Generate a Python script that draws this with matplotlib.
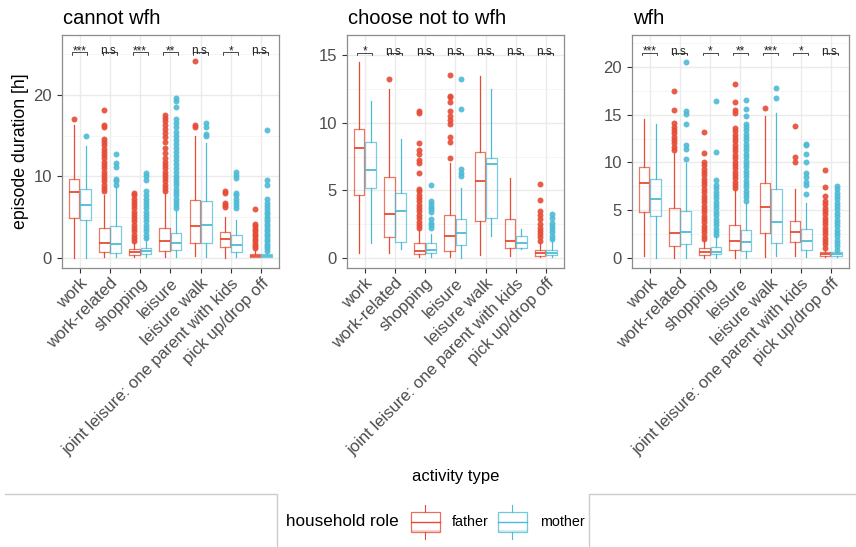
import matplotlib.pyplot as plt
from matplotlib.patches import Rectangle
from matplotlib.lines import Line2D

plt.rcParams['font.family'] = ['Liberation Sans', 'DejaVu Sans']

activities = ["work", "work-related", "shopping", "leisure", "leisure walk",
              "joint leisure: one parent with kids", "pick up/drop off"]
groups = ["cannot wfh", "choose not to wfh", "wfh"]
roles = ["father", "mother"]
role_colors = {"father": "#E64B35", "mother": "#4DBBD5"}

# (whisker low, q1, median, q3, whisker high) for each activity
cannot_father = [(0.0, 4.98, 8.08, 9.67, 16.3), (0.1, 0.73, 1.84, 3.76, 7.76),
                 (0.1, 0.4, 0.73, 1.1, 2.0), (0.1, 0.94, 2.1, 3.76, 7.96),
                 (0.3, 1.84, 4.0, 7.14, 15.0), (0.0, 1.35, 2.33, 3.18, 5.1),
                 (0.1, 0.1, 0.3, 0.53, 1.1)]
cannot_mother = [(0.0, 4.69, 6.53, 8.49, 13.7), (0.1, 0.6, 1.7, 4.0, 8.8),
                 (0.1, 0.49, 0.94, 1.22, 2.45), (0.1, 1.0, 1.84, 3.06, 5.9),
                 (0.2, 1.84, 4.08, 7.0, 14.1), (0.2, 0.82, 1.63, 2.86, 4.7),
                 (0.1, 0.1, 0.3, 0.57, 0.8)]
choose_father = [(0.37, 4.67, 8.1, 9.54, 14.46), (0.37, 1.6, 3.27, 6.02, 12.47),
                 (0.12, 0.3, 0.57, 1.1, 2.16), (0.12, 0.57, 1.65, 3.2, 7.0),
                 (0.25, 2.75, 5.73, 7.82, 13.47), (0.17, 0.74, 1.28, 2.88, 5.9),
                 (0.12, 0.2, 0.42, 0.6, 1.23)]
choose_mother = [(1.1, 5.2, 6.5, 8.6, 11.6), (0.69, 1.23, 3.5, 4.84, 8.8),
                 (0.12, 0.37, 0.6, 1.1, 1.77), (0.05, 0.98, 1.84, 2.88, 5.2),
                 (1.65, 3.0, 6.93, 7.43, 12.47), (0.69, 0.74, 1.1, 1.67, 2.16),
                 (0.12, 0.25, 0.42, 0.6, 1.35)]
wfh_father = [(0.24, 4.8, 7.83, 9.5, 14.5), (0.07, 1.29, 2.68, 5.29, 11.0),
              (0.07, 0.35, 0.63, 1.04, 1.9), (0.07, 0.87, 1.8, 3.48, 7.2),
              (0.17, 2.6, 5.4, 7.9, 14.8), (0.24, 1.67, 2.75, 3.93, 7.23),
              (0.1, 0.24, 0.42, 0.63, 1.0)]
wfh_mother = [(0.07, 4.42, 6.16, 8.24, 14.0), (0.07, 1.46, 2.78, 4.97, 9.9),
              (0.07, 0.42, 0.7, 1.15, 2.33), (0.07, 0.73, 1.67, 2.96, 5.9),
              (0.24, 1.57, 3.83, 7.2, 15.2), (0.17, 0.87, 1.8, 3.03, 5.74),
              (0.1, 0.24, 0.45, 0.63, 0.87)]

# outlying episodes per activity
cannot_father_out = [
    [17.0],
    [8.2, 8.6, 9.0, 9.4, 9.8, 10.2, 10.6, 11.0, 11.4, 11.8, 12.2, 12.6, 13.0, 13.4, 13.8, 14.2, 14.6, 16.1, 16.3, 18.1],
    [2.1, 2.5, 2.9, 3.3, 3.7, 4.1, 4.5, 4.9, 5.3, 5.7, 6.1, 6.5, 6.9, 7.3, 7.7, 8.0],
    [8.2, 8.6, 9.0, 9.4, 9.8, 10.2, 10.6, 11.0, 11.4, 11.8, 12.3, 12.9, 13.5, 14.2, 14.8, 15.3, 15.8, 16.3, 16.8, 17.2, 17.5],
    [16.1, 16.3, 24.1],
    [6.3, 6.5, 6.7, 8.0, 8.2],
    [1.2, 1.5, 1.8, 2.1, 2.4, 2.7, 3.0, 3.3, 3.6, 3.9, 4.2, 6.0],
]
cannot_mother_out = [
    [14.9],
    [9.0, 9.4, 9.7, 11.2, 11.6, 12.8],
    [2.5, 2.9, 3.3, 3.7, 4.1, 4.5, 4.9, 5.3, 5.7, 6.1, 6.5, 6.9, 7.3, 7.7, 8.2, 9.6, 10.1, 10.4],
    [6.1, 6.5, 6.9, 7.3, 7.7, 8.1, 8.5, 8.9, 9.3, 9.7, 10.1, 10.5, 11.0, 11.5, 12.0, 12.5, 13.0, 13.5, 14.0, 14.5,
     15.0, 15.5, 16.0, 16.6, 17.0, 18.5, 19.2, 19.6],
    [14.9, 15.2, 16.1, 16.5],
    [6.1, 6.5, 6.9, 7.3, 7.7, 8.0, 9.8, 10.2, 10.5],
    [0.9, 1.2, 1.5, 1.8, 2.1, 2.4, 2.7, 3.0, 3.3, 3.6, 3.9, 4.2, 4.5, 4.8, 5.1, 5.4, 5.7, 6.0, 6.4, 6.8, 7.2,
     9.0, 9.6, 15.7],
]
choose_father_out = [
    [],
    [13.2],
    [2.2, 2.45, 2.7, 2.95, 3.2, 3.45, 3.7, 3.95, 4.2, 4.45, 4.7, 4.95, 5.1, 6.27, 7.0, 7.25, 7.67, 8.0, 8.53,
     10.75, 10.87],
    [7.38, 8.6, 8.97, 9.88, 10.2, 10.5, 10.87, 11.5, 11.9, 12.0, 13.5],
    [],
    [],
    [1.3, 1.55, 1.8, 2.0, 2.2, 2.5, 2.9, 3.2, 3.5, 4.3, 5.5],
]
choose_mother_out = [
    [],
    [],
    [2.2, 2.45, 2.6, 2.9, 3.4, 3.6, 3.8, 4.0, 4.2, 5.4],
    [6.1, 6.27, 6.57, 11.0, 13.2],
    [],
    [],
    [1.4, 1.65, 1.9, 2.15, 2.4, 2.6, 3.0, 3.25],
]
wfh_father_out = [
    [],
    [11.3, 11.65, 12.0, 12.35, 12.7, 13.05, 13.4, 13.75, 14.1, 15.5, 17.5],
    [2.0, 2.35, 2.7, 3.05, 3.4, 3.75, 4.1, 4.45, 4.8, 5.15, 5.5, 5.85, 6.2, 6.55, 6.9, 7.25, 7.6, 7.95, 8.3,
     8.65, 9.0, 9.35, 9.7, 10.05, 11.0, 13.2],
    [7.3, 7.65, 8.0, 8.35, 8.7, 9.05, 9.4, 9.75, 10.1, 10.45, 10.8, 11.15, 11.5, 11.85, 12.2, 12.55, 12.9,
     13.25, 13.6, 15.2, 15.5, 16.3, 18.2],
    [15.7],
    [10.0, 10.6, 13.8],
    [1.1, 1.45, 1.8, 2.15, 2.5, 2.85, 3.2, 3.55, 3.9, 4.25, 4.6, 4.95, 5.3, 5.65, 6.0, 6.5, 7.4, 9.2],
]
wfh_mother_out = [
    [],
    [10.33, 11.4, 11.8, 14.0, 15.1, 15.4, 20.5],
    [2.4, 2.75, 3.1, 3.45, 3.8, 4.15, 4.5, 4.85, 5.2, 5.55, 5.9, 6.25, 6.6, 6.95, 7.3, 7.65, 8.2, 11.1, 16.4],
    [6.0, 6.35, 6.7, 7.05, 7.4, 7.75, 8.1, 8.45, 8.8, 9.15, 9.5, 9.85, 10.2, 10.55, 10.9, 11.25, 11.6, 11.95,
     12.3, 12.65, 13.0, 13.35, 13.7, 14.0, 14.8, 15.6, 16.5],
    [16.7, 17.8],
    [6.68, 7.7, 8.0, 8.5, 8.87, 10.1, 10.9, 11.8, 11.9],
    [0.9, 1.25, 1.6, 1.95, 2.3, 2.65, 3.0, 3.35, 3.7, 4.05, 4.4, 4.75, 5.1, 5.45, 5.8, 6.15, 6.5, 6.85, 7.2, 7.5],
]

# father vs mother test result per activity
cannot_sig = ["***", "n.s.", "***", "**", "n.s.", "*", "n.s."]
choose_sig = ["*", "n.s.", "n.s.", "n.s.", "n.s.", "n.s.", "n.s."]
wfh_sig = ["***", "n.s.", "*", "**", "***", "*", "n.s."]

panel_data = {
    "cannot wfh": (cannot_father, cannot_mother, cannot_father_out, cannot_mother_out, cannot_sig),
    "choose not to wfh": (choose_father, choose_mother, choose_father_out, choose_mother_out, choose_sig),
    "wfh": (wfh_father, wfh_mother, wfh_father_out, wfh_mother_out, wfh_sig),
}
panel_ylim = {"cannot wfh": (-1.19, 27.3), "choose not to wfh": (-0.72, 16.47), "wfh": (-1.01, 23.3)}
panel_sig_y = {"cannot wfh": 25.2, "choose not to wfh": 15.17, "wfh": 21.46}
panel_major = {"cannot wfh": [0, 10, 20], "choose not to wfh": [0, 5, 10, 15], "wfh": [0, 5, 10, 15, 20]}
panel_minor = {"cannot wfh": [5, 15, 25], "choose not to wfh": [2.5, 7.5, 12.5],
               "wfh": [2.5, 7.5, 12.5, 17.5, 22.5]}

W, H = 856, 547
fig = plt.figure(figsize=(W / 100, H / 100), dpi=100)

panel_left = [61.7, 346.7, 631.7]
panel_top, panel_bottom, panel_w = 35, 268, 217.3
offset, box_w, bracket = 0.19, 0.35, 0.245
xpos = list(range(1, len(activities) + 1))


def make_stats(boxes, outs):
    return [dict(whislo=b[0], q1=b[1], med=b[2], q3=b[3], whishi=b[4], fliers=o)
            for b, o in zip(boxes, outs)]


for left, grp in zip(panel_left, groups):
    ax = fig.add_axes([left / W, 1 - panel_bottom / H, panel_w / W, (panel_bottom - panel_top) / H])
    fb, mb, fo, mo, sig = panel_data[grp]
    for role, boxes, outs, sh in [("father", fb, fo, -offset), ("mother", mb, mo, offset)]:
        c = role_colors[role]
        ax.bxp(make_stats(boxes, outs), positions=[x + sh for x in xpos], widths=box_w,
               showcaps=False, manage_ticks=False,
               boxprops=dict(color=c, alpha=0.75, lw=0.9),
               whiskerprops=dict(color=c, lw=0.9),
               medianprops=dict(color=c, lw=1.3),
               flierprops=dict(marker='o', markerfacecolor=c, markeredgecolor='none',
                               markersize=4.3, alpha=0.9))

    # significance brackets
    sy = panel_sig_y[grp]
    lo, hi = panel_ylim[grp]
    tip = (hi - lo) * 0.012
    for x, s in zip(xpos, sig):
        ax.plot([x - bracket, x - bracket, x + bracket, x + bracket], [sy - tip, sy, sy, sy - tip],
                color='black', lw=0.5)
        ax.annotate(s, (x, sy), xytext=(0, -1.5), textcoords='offset points',
                    ha='center', va='baseline', fontsize=8.5, color='#222222')

    ax.set_xlim(0.4, 7.6)
    ax.set_ylim(lo, hi)
    ax.set_xticks(xpos)
    ax.set_xticklabels(activities, rotation=45, ha='right', rotation_mode='anchor',
                       fontsize=12, color='#4D4D4D')
    ax.set_yticks(panel_major[grp])
    ax.set_yticks(panel_minor[grp], minor=True)
    ax.tick_params(axis='y', labelsize=12, labelcolor='#4D4D4D', color='#333333', length=3.5, width=0.8)
    ax.tick_params(axis='x', color='#333333', length=3.5, width=0.8, pad=2)
    ax.tick_params(axis='y', which='minor', length=0)
    ax.grid(True, which='major', color='#EBEBEB', lw=1.0)
    ax.grid(True, which='minor', axis='y', color='#F2F2F2', lw=0.5)
    ax.set_axisbelow(True)
    for sp in ax.spines.values():
        sp.set_color('#8C8C8C')
        sp.set_linewidth(0.9)
    fig.text((left + 1) / W, 1 - 23.5 / H, grp, fontsize=14.5, ha='left', va='baseline')

fig.text(21 / W, 1 - 151.5 / H, "episode duration [h]", rotation=90, fontsize=12.8,
         ha='center', va='center')
fig.text(456 / W, 1 - 477 / H, "activity type", fontsize=12, ha='center', va='center')

# legend area drawn in pixel coordinates
lg = fig.add_axes([0, 0, 1, 1])
lg.set_xlim(0, W)
lg.set_ylim(H, 0)
lg.axis('off')
frame = '#CCCCCC'
lg.add_line(Line2D([5, 277, 277], [494, 494, H], color=frame, lw=1))
lg.add_line(Line2D([W, 589, 589], [494, 494, H], color=frame, lw=1))
lg.text(286, 522, "household role", fontsize=12.3, ha='left', va='center')
for role, kx, tx in [("father", 411, 452), ("mother", 498, 540)]:
    c = role_colors[role]
    cx = kx + 14.5
    lg.add_patch(Rectangle((kx, 530), 29, 2, facecolor=c, alpha=0.25, edgecolor='none'))
    lg.add_patch(Rectangle((kx, 512), 29, 20, facecolor='none', edgecolor=c, alpha=0.8, lw=0.9))
    lg.add_line(Line2D([kx, kx + 29], [522, 522], color=c, lw=1.0))
    lg.add_line(Line2D([cx, cx], [505, 512], color=c, lw=0.8))
    lg.add_line(Line2D([cx, cx], [532, 539], color=c, lw=0.8))
    lg.text(tx, 522, role, fontsize=10.3, ha='left', va='center')

fig.savefig("out.png", dpi=100)
